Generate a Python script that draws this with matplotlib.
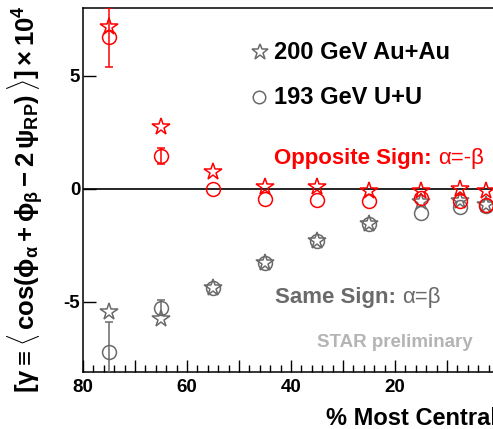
import numpy as np
import matplotlib
matplotlib.use("Agg")
import matplotlib.pyplot as plt
from matplotlib.ticker import MultipleLocator, FuncFormatter

plt.rcParams['font.family'] = ['Liberation Sans', 'DejaVu Sans']
plt.rcParams['mathtext.fontset'] = 'custom'
plt.rcParams['mathtext.rm'] = 'Liberation Sans:bold'
plt.rcParams['mathtext.it'] = 'Liberation Sans:bold'
plt.rcParams['mathtext.bf'] = 'Liberation Sans:bold'

# centrality bins (% most central)
centrality = [75, 65, 55, 45, 35, 25, 15, 7.5, 2.5]

# opposite sign (alpha = -beta), x 10^4
auau_os = [7.15, 2.75, 0.75, 0.1, 0.1, -0.1, -0.1, 0.0, -0.1]
uu_os = [6.7, 1.45, 0.0, -0.45, -0.5, -0.55, -0.4, -0.55, -0.7]
uu_os_err = [1.3, 0.35, np.nan, np.nan, np.nan, np.nan, np.nan, np.nan, np.nan]

# same sign (alpha = beta), x 10^4
auau_ss = [-5.45, -5.75, -4.4, -3.3, -2.3, -1.55, -0.6, -0.55, -0.7]
uu_ss = [-7.2, -5.25, -4.4, -3.3, -2.3, -1.55, -1.05, -0.8, -0.75]
uu_ss_err = [1.3, 0.35, np.nan, np.nan, np.nan, np.nan, np.nan, np.nan, np.nan]

red = '#ff0000'
grey = '#6a6a6a'

fig = plt.figure(figsize=(4.93, 4.29), dpi=100)
ax = fig.add_axes([83 / 493, 57 / 429, 416 / 493, 364 / 429])

ax.axhline(0, color='black', lw=1.2, zorder=1)

# same sign
ax.errorbar(centrality, uu_ss, yerr=uu_ss_err, fmt='o', ms=10, mfc='none',
            mec=grey, ecolor=grey, mew=1.1, elinewidth=1.1, capsize=3, zorder=3)
ax.plot(centrality, auau_ss, '*', ms=13, mfc='none', mec=grey, mew=1.1, zorder=3)

# opposite sign
ax.errorbar(centrality, uu_os, yerr=uu_os_err, fmt='o', ms=10, mfc='none',
            mec=red, ecolor=red, mew=1.1, elinewidth=1.1, capsize=3, zorder=4)
ax.plot(centrality, auau_os, '*', ms=13, mfc='none', mec=red, mew=1.1, zorder=4)

ax.set_xlim(80, 0)
ax.set_ylim(-8.1, 8.0)

ax.xaxis.set_major_locator(MultipleLocator(10))
ax.xaxis.set_minor_locator(MultipleLocator(2))
ax.xaxis.set_major_formatter(FuncFormatter(lambda v, p: f'{v:.0f}' if round(v) % 20 == 0 else ''))
ax.yaxis.set_major_locator(MultipleLocator(5))
ax.yaxis.set_major_formatter(FuncFormatter(lambda v, p: f'{v:.0f}'))
ax.tick_params(axis='both', which='major', direction='in', length=9, width=1,
               labelsize=13.5, pad=5)
ax.tick_params(axis='both', which='minor', direction='in', length=5, width=1)
ax.tick_params(axis='y', pad=2, left=True, right=False)
ax.tick_params(axis='x', top=False)
for lab in ax.get_xticklabels() + ax.get_yticklabels():
    lab.set_fontweight('bold')
for s in ['left', 'top', 'bottom']:
    ax.spines[s].set_linewidth(1.1)
ax.spines['right'].set_visible(False)

# legend
ax.plot([46.0], [6.05], '*', ms=12, mfc='none', mec=grey, mew=1.1, clip_on=False)
ax.plot([46.2], [4.05], 'o', ms=9, mfc='none', mec=grey, mew=1.1, clip_on=False)
ax.text(43.2, 6.05, '200 GeV Au+Au', fontsize=17, fontweight='bold', va='center', ha='left')
ax.text(43.2, 4.05, '193 GeV U+U', fontsize=17, fontweight='bold', va='center', ha='left')

t1 = ax.text(43.2, 1.35, 'Opposite Sign: ', fontsize=16, fontweight='bold', color=red,
             va='center', ha='left')
ax.annotate('α=-β', xy=(1, 0), xycoords=t1, va='bottom', ha='left', fontsize=16, color=red)

t2 = ax.text(43.0, -4.8, 'Same Sign: ', fontsize=16, fontweight='bold', color=grey,
             va='center', ha='left')
ax.annotate('α=β', xy=(1, 0), xycoords=t2, va='bottom', ha='left', fontsize=16, color=grey)

ax.text(35.0, -6.8, 'STAR preliminary', fontsize=13.5, fontweight='bold', color='#b4b4b4',
        va='center', ha='left')

ax.set_xlabel('% Most Centrality', fontsize=17, fontweight='bold', loc='left', labelpad=4)
ax.xaxis.set_label_coords(0.583, -0.095)

fig.text(25 / 493, 1 - 199 / 429,
         r'$[\gamma \equiv \langle\,\cos(\phi_\alpha + \phi_\beta - 2\,\psi_{RP})\,\rangle] \times 10^4$',
         rotation=90, fontsize=18.5, va='center', ha='center')

fig.savefig('out.png', dpi=100)
